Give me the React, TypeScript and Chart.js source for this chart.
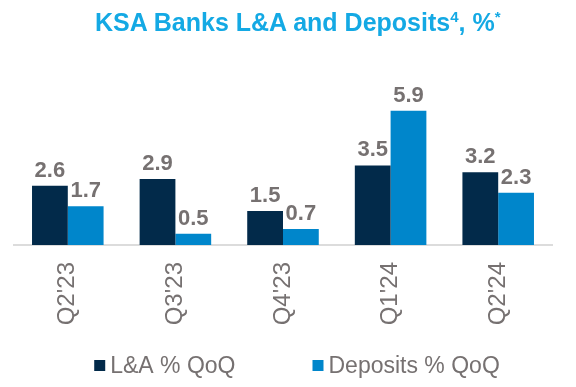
import React, { useEffect, useRef } from "react";
import { Chart, registerables } from "chart.js";

Chart.register(...registerables);

const categories = ["Q2'23", "Q3'23", "Q4'23", "Q1'24", "Q2'24"];
const loansQoQ = [2.6, 2.9, 1.5, 3.5, 3.2];
const depositsQoQ = [1.7, 0.5, 0.7, 5.9, 2.3];
const seriesNames = ["L&A % QoQ", "Deposits % QoQ"];
const yRange = [0, 8];

const NAVY = "#022A4A";
const BLUE = "#0086CB";
const GRAY = "#767171";
const TITLE_BLUE = "#14A9E4";
const FONT = "'Liberation Sans', Arial, sans-serif";

const valueLabels = {
  id: "valueLabels",
  afterDatasetsDraw(chart: any) {
    const ctx = chart.ctx;
    ctx.save();
    ctx.font = `bold 22px ${FONT}`;
    ctx.fillStyle = GRAY;
    ctx.textAlign = "center";
    ctx.textBaseline = "alphabetic";
    chart.data.datasets.forEach((ds: any, di: number) => {
      const meta = chart.getDatasetMeta(di);
      meta.data.forEach((bar: any, i: number) => {
        const v = ds.data[i] as number;
        ctx.fillText(v.toFixed(1), bar.x, bar.y - 9);
      });
    });
    ctx.restore();
  },
};

const bottomLegend = {
  id: "bottomLegend",
  afterDraw(chart: any) {
    const ctx = chart.ctx;
    ctx.save();
    ctx.font = `23px ${FONT}`;
    const box = 11;
    const textGap = 5;
    const itemGap = 77;
    const items = chart.data.datasets.map((ds: any) => ({
      text: ds.label as string,
      color: ds.backgroundColor as string,
    }));
    const widths = items.map(
      (it: any) => box + textGap + ctx.measureText(it.text).width
    );
    const total =
      widths.reduce((a: number, b: number) => a + b, 0) +
      itemGap * (items.length - 1);
    let x = 297 - total / 2;
    const baseline = 373;
    items.forEach((it: any, i: number) => {
      ctx.fillStyle = it.color;
      ctx.fillRect(x, baseline - 13, box, box);
      ctx.fillStyle = GRAY;
      ctx.textAlign = "left";
      ctx.textBaseline = "alphabetic";
      ctx.fillText(it.text, x + box + textGap, baseline);
      x += widths[i] + itemGap;
    });
    ctx.restore();
  },
};

export default function App() {
  const canvasRef = useRef<HTMLCanvasElement | null>(null);

  useEffect(() => {
    const canvas = canvasRef.current;
    if (!canvas) return;
    const chart = new Chart(canvas, {
      type: "bar",
      data: {
        labels: categories,
        datasets: [
          {
            label: seriesNames[0],
            data: loansQoQ,
            backgroundColor: NAVY,
            borderWidth: 0,
            barPercentage: 1,
            categoryPercentage: 0.665,
          },
          {
            label: seriesNames[1],
            data: depositsQoQ,
            backgroundColor: BLUE,
            borderWidth: 0,
            barPercentage: 1,
            categoryPercentage: 0.665,
          },
        ],
      },
      options: {
        responsive: false,
        maintainAspectRatio: false,
        animation: false,
        devicePixelRatio: 1,
        layout: { padding: { left: 14, right: 24, top: 63, bottom: 61 } },
        plugins: {
          legend: { display: false },
          tooltip: { enabled: false },
          title: { display: false },
        },
        scales: {
          x: {
            grid: { display: false, drawTicks: false },
            border: { display: true, color: "#DCDCDC", width: 2 },
            ticks: {
              color: GRAY,
              font: { family: FONT, size: 24 },
              minRotation: 90,
              maxRotation: 90,
              padding: 17,
              autoSkip: false,
            },
            afterFit(scale: any) {
              scale.height = 81;
            },
          },
          y: {
            display: false,
            min: yRange[0],
            max: yRange[1],
          },
        },
      },
      plugins: [valueLabels, bottomLegend],
    });
    return () => chart.destroy();
  }, []);

  return (
    <div
      style={{
        position: "absolute",
        left: 0,
        top: 0,
        width: 576,
        height: 387,
        background: "#fff",
        overflow: "hidden",
      }}
    >
      <div
        style={{
          position: "absolute",
          left: 95,
          top: 9.5,
          whiteSpace: "nowrap",
          fontFamily: FONT,
          fontWeight: "bold",
          fontSize: 25,
          lineHeight: "25px",
          color: TITLE_BLUE,
        }}
      >
        KSA Banks L&amp;A and Deposits
        <span style={{ fontSize: 15, verticalAlign: 9, lineHeight: 0 }}>4</span>
        , %
        <span style={{ fontSize: 15, verticalAlign: 9, lineHeight: 0 }}>*</span>
      </div>
      <canvas
        ref={canvasRef}
        width={576}
        height={387}
        style={{ display: "block", width: 576, height: 387 }}
      />
    </div>
  );
}
